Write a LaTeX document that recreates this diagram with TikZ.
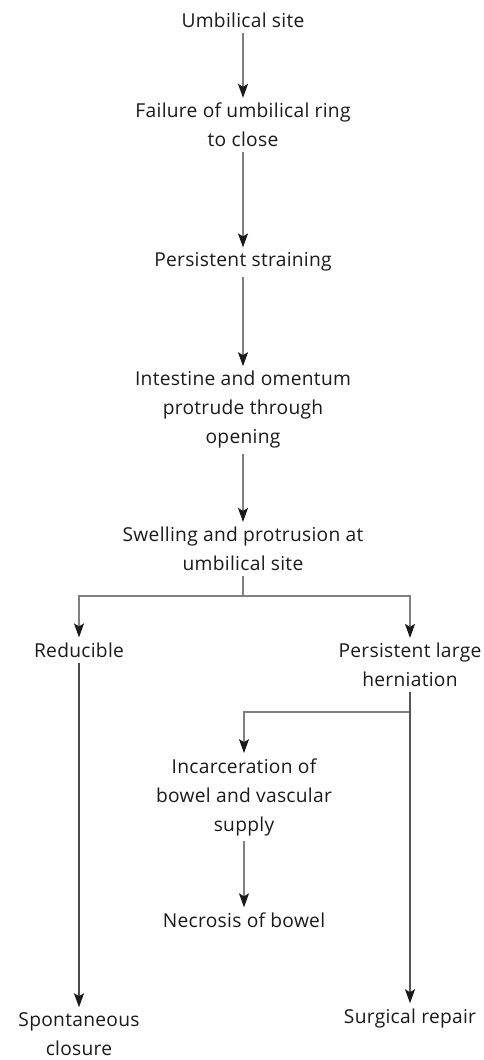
\documentclass[tikz,border=0pt]{standalone}
\usepackage{fontspec}
\setmainfont{Open Sans}[LetterSpace=1.5]
\usetikzlibrary{arrows.meta}
\definecolor{txt}{HTML}{1A1A1A}
\definecolor{lineg}{HTML}{808080}
\definecolor{lined}{HTML}{4A4A4A}
\definecolor{tipc}{HTML}{1A1A1A}
\begin{document}
\begin{tikzpicture}[x=1pt,y=-1pt,
  lbl/.style={align=center,inner xsep=0pt,inner ysep=5pt,text=txt,
    font=\fontsize{19.2}{29}\selectfont},
  conn/.style={draw=lineg,line width=1.6pt},
  arr/.style={conn,-{Stealth[length=14pt,width=10pt,inset=3pt,color=tipc]}},
  darr/.style={arr,draw=lined}]
\useasboundingbox (0,0) rectangle (483,1060);
% main chain
\node[lbl] (site)   at (243,20)  {Umbilical site};
\node[lbl] (ring)   at (243,125) {Failure of umbilical ring\\to close};
\node[lbl] (strain) at (243,262) {Persistent straining};
\node[lbl] (intest) at (243,410) {Intestine and omentum\\protrude through\\opening};
\node[lbl] (swell)  at (243,549) {Swelling and protrusion at\\umbilical site};
% outcomes
\node[lbl] (reduc)  at (79,650)  {Reducible};
\node[lbl] (large)  at (410,665) {Persistent large\\herniation};
\node[lbl] (incarc) at (244,797) {Incarceration of\\bowel and vascular\\supply};
\node[lbl] (necro)  at (244,920) {Necrosis of bowel};
\node[lbl] (spont)  at (79,1034) {Spontaneous\\closure};
\node[lbl] (surg)   at (410,1018) {Surgical repair};
% connectors
\draw[arr] (site) -- (ring);
\draw[arr] (ring) -- (strain);
\draw[arr] (strain) -- (intest);
\draw[arr] (intest) -- (swell);
\draw[conn] (swell.south) -- ++(0,20) coordinate (fork);
\draw[arr] (fork) -| (reduc.north);
\draw[arr] (fork) -| (large.north);
\draw[darr] (reduc) -- (spont);
\draw[arr] (large.south) -- ++(0,20) -| (incarc.north);
\draw[arr,draw=lined!80!lineg] (large) -- (surg);
\draw[arr] (incarc) -- (necro);
\end{tikzpicture}
\end{document}
